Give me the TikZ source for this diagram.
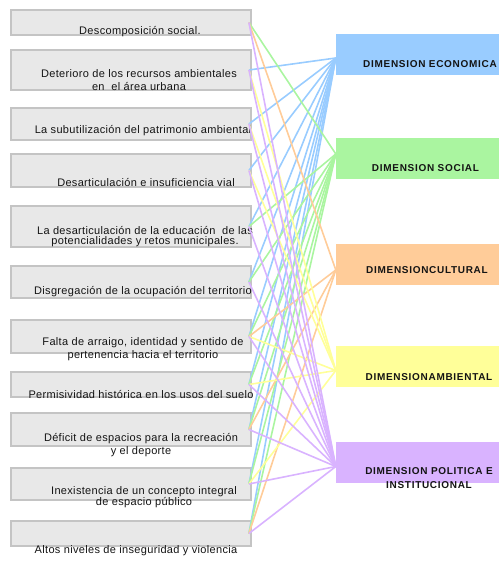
\documentclass[tikz,border=0pt]{standalone}
\usepackage{fontspec}
\setmainfont{Liberation Sans}
\newfontfamily\probfont[LetterSpace=3]{Liberation Sans}
\newfontfamily\dimfont[LetterSpace=7]{Liberation Sans}
\usetikzlibrary{calc}

\definecolor{cEcon}{RGB}{153,204,255}
\definecolor{cSocial}{RGB}{170,245,160}
\definecolor{cCultural}{RGB}{255,204,153}
\definecolor{cAmbiental}{RGB}{255,255,153}
\definecolor{cPolitica}{RGB}{217,179,255}
\definecolor{cTexto}{RGB}{20,20,20}

\tikzset{
	problema/.style={draw=gray!46, fill=gray!18, line width=1.8pt, minimum width=240pt, inner sep=0pt},
	dimension/.style={fill=#1, minimum width=163pt, minimum height=41pt, inner sep=0pt},
	probtexto/.style={text=cTexto, inner sep=0pt, align=center, font=\probfont\fontsize{11}{13}\selectfont},
	dimtexto/.style={text=cTexto, inner sep=0pt, align=center, font=\dimfont\bfseries\fontsize{10}{14}\selectfont},
	enlace/.style={draw=#1, line width=1.6pt}
}

\begin{document}
\begin{tikzpicture}[x=1pt,y=1pt,yscale=-1,xscale=1]
	\useasboundingbox (0,0) rectangle (501,562);
	
	% Problemas
	\node[problema, minimum height=25pt] (b1) at (131,22.5) {};
	\node[problema, minimum height=40pt] (b2) at (131,70) {};
	\node[problema, minimum height=32pt] (b3) at (131,124) {};
	\node[problema, minimum height=33pt] (b4) at (131,170.5) {};
	\node[problema, minimum height=41pt] (b5) at (131,226.5) {};
	\node[problema, minimum height=32pt] (b6) at (131,282) {};
	\node[problema, minimum height=33pt] (b7) at (131,336.5) {};
	\node[problema, minimum height=25pt] (b8) at (131,384.5) {};
	\node[problema, minimum height=33pt] (b9) at (131,429.5) {};
	\node[problema, minimum height=32pt] (b10) at (131,484) {};
	\node[problema, minimum height=25pt] (b11) at (131,533.5) {};
	
	% Dimensiones
	\node[dimension=cEcon] (d1) at (417.5,54) {};
	\node[dimension=cSocial] (d2) at (417.5,158) {};
	\node[dimension=cCultural] (d3) at (417.5,264) {};
	\node[dimension=cAmbiental] (d4) at (417.5,366.5) {};
	\node[dimension=cPolitica] (d5) at (417.5,462.5) {};
	
	% Textos problemas
	\node[probtexto] (t1) at (140,32) {Descomposición social.};
	\node[probtexto] (t2) at (139,80.5) {Deterioro de los recursos ambientales\\ en \ el área urbana};
	\node[probtexto] (t3) at (143,131) {La subutilización del patrimonio ambiental};
	\node[probtexto] (t4) at (146,183) {Desarticulación e insuficiencia vial};
	\node[probtexto] (t5) at (145,237) {La desarticulación de la educación \ de las\\[-3pt] potencialidades y retos municipales.};
	\node[probtexto] (t6) at (143,292) {Disgregación de la ocupación del territorio};
	\node[probtexto] (t7) at (143,349) {Falta de arraigo, identidad y sentido de\\ pertenencia hacia el territorio};
	\node[probtexto] (t8) at (141,394) {Permisividad histórica en los usos del suelo};
	\node[probtexto] (t9) at (141,445.5) {Déficit de espacios para la recreación\\ y el deporte};
	\node[probtexto] (t10) at (144,497.5) {Inexistencia de un concepto integral\\[-2pt] de espacio público};
	\node[probtexto] (t11) at (136,551) {Altos niveles de inseguridad y violencia};
	
	% Textos dimensiones
	\node[dimtexto] (r1) at (430,64) {DIMENSION ECONOMICA};
	\node[dimtexto] (r2) at (425.5,168) {DIMENSION SOCIAL};
	\node[dimtexto] (r3) at (427,270) {DIMENSIONCULTURAL};
	\node[dimtexto] (r4) at (429,377) {DIMENSIONAMBIENTAL};
	\node[dimtexto] (r5) at (429,478) {DIMENSION POLITICA E\\ INSTITUCIONAL};
	
	% Puntos de salida
	\coordinate (o1) at ([xshift=-3pt]b1.east);
	\coordinate (o2) at ([xshift=-3pt]b2.east);
	\coordinate (o3) at ([xshift=-3pt]b3.east);
	\coordinate (o4) at ([xshift=-3pt]b4.east);
	\coordinate (o5) at ([xshift=-3pt]b5.east);
	\coordinate (o6) at ([xshift=-3pt]b6.east);
	\coordinate (o7) at ([xshift=-3pt]b7.east);
	\coordinate (o8) at ([xshift=-3pt]b8.east);
	\coordinate (o9) at ([xshift=-3pt]b9.east);
	\coordinate (o10) at ([xshift=-3pt]b10.east);
	\coordinate (o11) at ([xshift=-3pt]b11.east);
	% Puntos de llegada
	\coordinate (e1) at ([yshift=4pt]d1.west);
	\coordinate (e2) at ([yshift=-4pt]d2.west);
	\coordinate (e3) at ([yshift=6pt]d3.west);
	\coordinate (e4) at ([yshift=4pt]d4.west);
	\coordinate (e5) at ([yshift=4pt]d5.west);
	
	% Economica
	\draw[enlace=cEcon] (o2) -- (e1);
	\draw[enlace=cEcon] (o3) -- (e1);
	\draw[enlace=cEcon] (o4) -- (e1);
	\draw[enlace=cEcon] (o5) -- (e1);
	\draw[enlace=cEcon] (o6) -- (e1);
	\draw[enlace=cEcon] (o7) -- (e1);
	\draw[enlace=cEcon] (o8) -- (e1);
	\draw[enlace=cEcon] (o9) -- (e1);
	\draw[enlace=cEcon] (o10) -- (e1);
	\draw[enlace=cEcon] (o11) -- (e1);
	% Social
	\draw[enlace=cSocial] (o1) -- (e2);
	\draw[enlace=cSocial] (o5) -- (e2);
	\draw[enlace=cSocial] (o6) -- (e2);
	\draw[enlace=cSocial] (o7) -- (e2);
	\draw[enlace=cSocial] (o8) -- (e2);
	\draw[enlace=cSocial] (o9) -- (e2);
	\draw[enlace=cSocial] (o10) -- (e2);
	\draw[enlace=cSocial] (o11) -- (e2);
	% Cultural
	\draw[enlace=cCultural] (o1) -- (e3);
	\draw[enlace=cCultural] (o7) -- (e3);
	\draw[enlace=cCultural] (o9) -- (e3);
	\draw[enlace=cCultural] (o11) -- (e3);
	% Ambiental
	\draw[enlace=cAmbiental] (o2) -- (e4);
	\draw[enlace=cAmbiental] (o3) -- (e4);
	\draw[enlace=cAmbiental] (o4) -- (e4);
	\draw[enlace=cAmbiental] (o7) -- (e4);
	\draw[enlace=cAmbiental] (o8) -- (e4);
	\draw[enlace=cAmbiental] (o10) -- (e4);
	% Politica
	\draw[enlace=cPolitica] (o1) -- (e5);
	\draw[enlace=cPolitica] (o2) -- (e5);
	\draw[enlace=cPolitica] (o3) -- (e5);
	\draw[enlace=cPolitica] (o4) -- (e5);
	\draw[enlace=cPolitica] (o5) -- (e5);
	\draw[enlace=cPolitica] (o6) -- (e5);
	\draw[enlace=cPolitica] (o7) -- (e5);
	\draw[enlace=cPolitica] (o8) -- (e5);
	\draw[enlace=cPolitica] (o9) -- (e5);
	\draw[enlace=cPolitica] (o10) -- (e5);
	\draw[enlace=cPolitica] (o11) -- (e5);
	
\end{tikzpicture}
\end{document}
